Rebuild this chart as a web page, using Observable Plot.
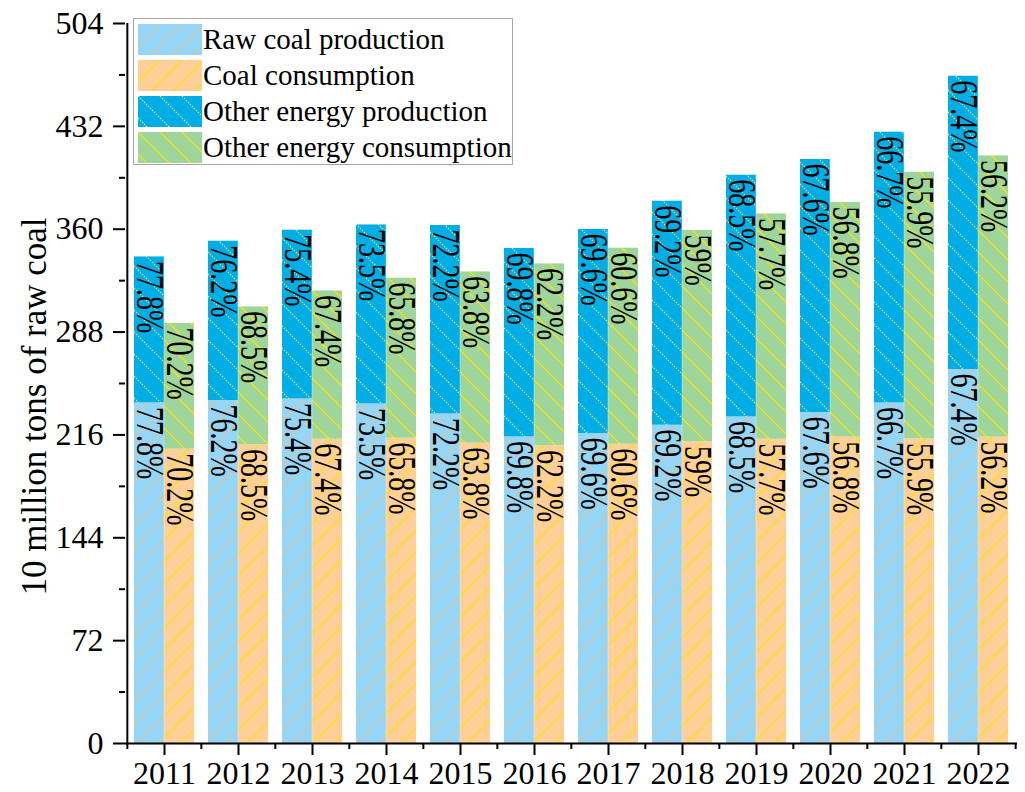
<!DOCTYPE html>
<html><head><meta charset="utf-8">
<script src="https://cdn.jsdelivr.net/npm/d3@7"></script>
<script src="https://cdn.jsdelivr.net/npm/@observablehq/plot@0.6"></script>
<style>
body{margin:0;background:#fff;}
#wrap{position:relative;width:1025px;height:792px;font-family:"Liberation Serif","Times New Roman",serif;}
#legend{position:absolute;left:133px;top:18px;width:380px;height:147px;border:1px solid #a6a6a6;background:#fff;box-sizing:border-box;}
.row{position:absolute;left:4px;height:31px;display:flex;align-items:center;white-space:nowrap;}
.row svg{display:block;flex:none;}
.row span{font-size:29px;margin-left:1px;color:#000;line-height:31px;}
</style></head><body>
<svg width="0" height="0" style="position:absolute">
  <defs>
    <pattern id="patRaw" patternUnits="userSpaceOnUse" width="22" height="22">
      <rect width="22" height="22" fill="#95d5f5"/>
      <path d="M0,22L22,0M-2,2L2,-2M20,24L24,20" stroke="#dcc39c" stroke-width="1.2"/>
    </pattern>
    <pattern id="patCoal" patternUnits="userSpaceOnUse" width="22" height="22">
      <rect width="22" height="22" fill="#fecf97"/>
      <path d="M0,22L22,0M-2,2L2,-2M20,24L24,20" stroke="#ffe01c" stroke-width="1.4"/>
    </pattern>
    <pattern id="patOtherProd" patternUnits="userSpaceOnUse" width="22" height="22">
      <rect width="22" height="22" fill="#00aee5"/>
      <path d="M0,0L22,22M-2,20L2,24M20,-2L24,2" stroke="#cfe7a6" stroke-width="1.1" stroke-dasharray="1.6 1.2"/>
    </pattern>
    <pattern id="patOtherCons" patternUnits="userSpaceOnUse" width="22" height="22">
      <rect width="22" height="22" fill="#9dd59a"/>
      <path d="M0,0L22,22M-2,20L2,24M20,-2L24,2" stroke="#f5e21d" stroke-width="1.3"/>
    </pattern>
  </defs>
</svg>
<div id="wrap"><div id="legend"></div></div>
<script>
const years = ["2011","2012","2013","2014","2015","2016","2017","2018","2019","2020","2021","2022"];
const rawCoalProduction      = [238.4, 240.1, 241.2, 237.7, 230.7, 214.6, 217.0, 222.8, 228.6, 231.7, 238.4, 261.8];
const otherEnergyProduction  = [102.2, 111.5, 118.1, 125.3, 131.9, 131.9, 142.8, 156.8, 169.2, 177.1, 189.5, 205.3];
const coalConsumption        = [206.0, 209.0, 213.0, 213.7, 210.2, 208.3, 209.5, 211.1, 213.0, 214.4, 213.2, 214.4];
const otherEnergyConsumption = [88.0, 96.6, 103.8, 112.0, 119.9, 127.4, 137.2, 148.0, 157.7, 164.3, 186.7, 196.9];
const productionShare  = ["77.8%","76.2%","75.4%","73.5%","72.2%","69.8%","69.6%","69.2%","68.5%","67.6%","66.7%","67.4%"];
const consumptionShare = ["70.2%","68.5%","67.4%","65.8%","63.8%","62.2%","60.6%","59%","57.7%","56.8%","55.9%","56.2%"];
const yTicks = [0, 72, 144, 216, 288, 360, 432, 504];
const yMinorTicks = [36, 108, 180, 252, 324, 396, 468];
const yTitle = "10 million tons of raw coal";
const legendItems = [
  {label: "Raw coal production", pattern: "patRaw"},
  {label: "Coal consumption", pattern: "patCoal"},
  {label: "Other energy production", pattern: "patOtherProd"},
  {label: "Other energy consumption", pattern: "patOtherCons"}
];

const FONT = "'Liberation Serif','Times New Roman',serif";
const W = 1025, H = 792, mL = 125, mR = 8, mT = 23, mB = 49;
const bw = (W - mL - mR) / years.length;
const gap = 7;
const off = (bw / 2 - gap) / 2;

const prod = years.map((y, i) => ({year: y, coal: rawCoalProduction[i], top: rawCoalProduction[i] + otherEnergyProduction[i], pct: productionShare[i]}));
const cons = years.map((y, i) => ({year: y, coal: coalConsumption[i], top: coalConsumption[i] + otherEnergyConsumption[i], pct: consumptionShare[i]}));

const pctText = (data, y, dx) => Plot.text(data, {x: "year", y, text: "pct", dx, dy: 4, rotate: 90, textAnchor: "start", lineAnchor: "middle", fontSize: 28, fontFamily: FONT, fill: "#000"});

const chart = Plot.plot({
  width: W, height: H,
  marginLeft: mL, marginRight: mR, marginTop: mT, marginBottom: mB,
  style: {fontFamily: FONT, fontSize: "32px", background: "#fff", color: "#000"},
  x: {type: "band", domain: years, padding: 0, label: null},
  y: {domain: [0, 504], label: null},
  marks: [
    Plot.barY(prod, {x: "year", y1: 0, y2: "coal", fill: "url(#patRaw)", insetLeft: gap, insetRight: bw / 2}),
    Plot.barY(prod, {x: "year", y1: "coal", y2: "top", fill: "url(#patOtherProd)", insetLeft: gap, insetRight: bw / 2}),
    Plot.barY(cons, {x: "year", y1: 0, y2: "coal", fill: "url(#patCoal)", insetLeft: bw / 2, insetRight: gap}),
    Plot.barY(cons, {x: "year", y1: "coal", y2: "top", fill: "url(#patOtherCons)", insetLeft: bw / 2, insetRight: gap}),
    pctText(prod, "coal", -off),
    pctText(prod, "top", -off),
    pctText(cons, "coal", off),
    pctText(cons, "top", off),
    Plot.ruleY([0], {strokeWidth: 2}),
    Plot.ruleX([years[0]], {y1: 0, y2: 504, dx: -bw / 2, strokeWidth: 2}),
    Plot.axisY({ticks: yTicks, tickSize: 12, tickPadding: 10, fontSize: 32, fontFamily: FONT, strokeWidth: 2, label: null}),
    Plot.axisY({ticks: yMinorTicks, tickSize: 6, tickFormat: () => "", strokeWidth: 2, label: null}),
    Plot.axisX({tickSize: 12, tickPadding: 6, fontSize: 32, fontFamily: FONT, strokeWidth: 2, label: null}),
    Plot.axisX({ticks: years, tickSize: 6, dx: -bw / 2, tickFormat: () => "", strokeWidth: 2, label: null}),
    Plot.axisX({ticks: [years[years.length - 1]], tickSize: 6, dx: bw / 2, tickFormat: () => "", strokeWidth: 2, label: null}),
    Plot.text([yTitle], {frameAnchor: "left", text: d => d, dx: -91, dy: 23, rotate: -90, textAnchor: "middle", lineAnchor: "middle", fontSize: 35, fontFamily: FONT, fill: "#000"})
  ]
});

// widen the rotated share labels (glyphs are stretched across the bar in the original)
d3.select(chart).selectAll("text").each(function() {
  const t = this.textContent || "";
  const tr = this.getAttribute("transform") || "";
  if (t.endsWith("%") && tr.includes("rotate(90)")) {
    this.setAttribute("transform", tr + " scale(1,1.4)");
    this.style.fontFamily = FONT;
  }
});

const wrap = document.getElementById("wrap");
wrap.insertBefore(chart, wrap.firstChild);
chart.style.position = "absolute"; chart.style.left = "0"; chart.style.top = "0";

const legend = d3.select("#legend");
legendItems.forEach((d, i) => {
  const row = legend.append("div").attr("class", "row").style("top", (5 + i * 36) + "px");
  row.append("svg").attr("width", 64).attr("height", 31)
    .append("rect").attr("width", 64).attr("height", 31).attr("fill", `url(#${d.pattern})`);
  row.append("span").text(d.label);
});
</script>
</body></html>
